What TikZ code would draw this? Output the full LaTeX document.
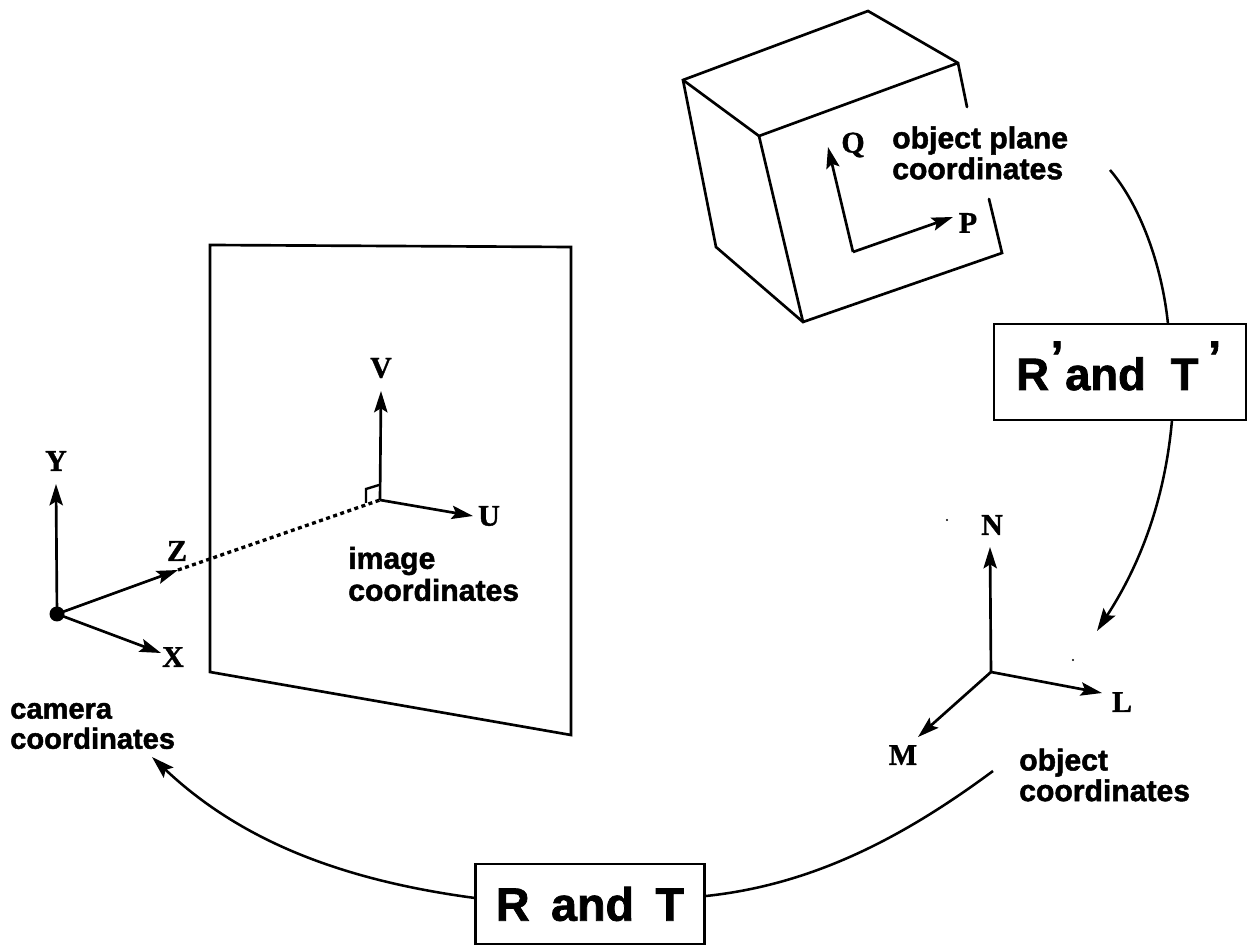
\documentclass[tikz,border=0pt]{standalone}
\usepackage{fontspec}
\setmainfont[BoldFeatures={FakeBold=1.2}]{Liberation Serif}
\setsansfont[BoldFeatures={FakeBold=1.6}]{Liberation Sans}
\usetikzlibrary{arrows.meta}
\tikzset{
  line/.style={line width=2pt,line cap=round,line join=miter},
  axis/.style={line width=2pt,-{Stealth[length=16pt,width=10pt,inset=3pt]}},
  curve/.style={line width=1.9pt},
  curvearrow/.style={line width=1.9pt,-{Stealth[length=17pt,width=10.5pt,inset=3pt]}},
  axlabel/.style={font=\fontsize{22.5}{24}\selectfont\bfseries,inner sep=0pt},
  cap label/.style={font=\fontsize{22.6}{23.2}\selectfont\sffamily\bfseries,align=left,inner sep=0pt,anchor=west},
  boxlabel/.style={draw,line width=2pt,font=\fontsize{35}{38}\selectfont\sffamily\bfseries,inner sep=0pt,anchor=center},
}
\begin{document}
\begin{tikzpicture}[x=0.75pt,y=-0.75pt]
\useasboundingbox (0,0) rectangle (1247,948);
% cube
\coordinate (a) at (683,80);
\coordinate (b) at (868,11);
\coordinate (c) at (958,63);
\coordinate (d) at (759,136);
\coordinate (e) at (716,247);
\coordinate (f) at (803,322);
\coordinate (g) at (1002,253);
\coordinate (c1) at (967,107);
\coordinate (g1) at (989,199);
\draw[line] (c1) -- (c) -- (b) -- (a) -- (e) -- (f) -- (g) -- (g1);
\draw[line] (a) -- (d) -- (c);
\draw[line] (d) -- (f);
% object plane axes
\coordinate (po) at (853,252);
\coordinate (qt) at (828,147);
\coordinate (pt) at (953,217);
\draw[axis] (po) -- (qt);
\draw[axis] (po) -- (pt);
\node[axlabel] (q) at (853,145) {Q};
\node[axlabel] (p) at (968,223) {P};
\node[cap label] (oplane) at (892,153) {object plane\\coordinates};
% image plane
\coordinate (i1) at (210,245);
\coordinate (i2) at (571,247);
\coordinate (i3) at (571,735);
\coordinate (i4) at (210,672);
\draw[line] (i1) -- (i2) -- (i3) -- (i4) -- cycle;
% image axes
\coordinate (io) at (380,500);
\coordinate (vt) at (381,391);
\coordinate (ut) at (473,516);
\draw[axis] (io) -- (vt);
\draw[axis] (io) -- (ut);
\draw[line width=1.8pt] (379,485) -- (366,489) -- (366,503);
\node[axlabel] (v) at (381,368) {V};
\node[axlabel] (u) at (489,516) {U};
\node[cap label,font=\fontsize{22.6}{24}\selectfont\sffamily\bfseries] (imcap) at (348,574) {image\\coordinates};
% camera axes
\coordinate (co) at (57,614);
\coordinate (yt) at (56,484);
\coordinate (zt) at (178,570);
\coordinate (xt) at (161,653);
\draw[axis] (co) -- (yt);
\draw[axis] (co) -- (zt);
\draw[axis] (co) -- (xt);
\fill (co) circle (7.5);
\draw[line width=2.5pt,dash pattern=on 3pt off 2.6pt] (zt) -- (io);
\node[axlabel] (y) at (56,461) {Y};
\node[axlabel] (z) at (177,551) {Z};
\node[axlabel] (x) at (173,657) {X};
\node[cap label,font=\fontsize{21.8}{22.6}\selectfont\sffamily\bfseries] (camcap) at (10,726) {camera\\coordinates};
% object axes
\coordinate (oo) at (991,672);
\coordinate (nt) at (990,547);
\coordinate (lt) at (1102,693);
\coordinate (mt) at (918,737);
\draw[axis] (oo) -- (nt);
\draw[axis] (oo) -- (lt);
\draw[axis] (oo) -- (mt);
\node[axlabel] (n) at (992,525) {N};
\node[axlabel] (l) at (1122,702) {L};
\node[axlabel] (m) at (903,755) {M};
\node[cap label,font=\fontsize{22.6}{23}\selectfont\sffamily\bfseries] (objcap) at (1019,775) {object\\coordinates};
% boxes
\node[boxlabel,minimum width=189pt,minimum height=72pt] (rp) at (1120,372) {};
\node[font=\fontsize{34}{38}\selectfont\sffamily\bfseries,inner sep=0pt,anchor=base west] (rptext) at (1016,390) {R\hspace{0.04em}\raisebox{13pt}{’}\hspace{0.04em}and\hspace{0.55em}T\hspace{0.22em}\raisebox{13pt}{’}};
\node[boxlabel,minimum width=172pt,minimum height=60pt] (rt) at (590,904) {R\hspace{0.46em}and\hspace{0.46em}T};
% arcs
\coordinate (s1) at (1110,170);
\coordinate (e1) at (1168,324);
\coordinate (s2) at (1172,420);
\coordinate (e2) at (1097,631);
\coordinate (s3) at (993,771);
\coordinate (e3) at (706,896);
\coordinate (s4) at (475,898);
\coordinate (e4) at (152,757);
\draw[curve] (s1) .. controls (1140,205) and (1162,265) .. (e1);
\draw[curvearrow] (s2) .. controls (1165,500) and (1140,565) .. (e2);
\draw[curve] (s3) .. controls (900,840) and (810,885) .. (e3);
\draw[curvearrow] (s4) .. controls (340,880) and (240,840) .. (e4);
% specks
\fill (947,520) circle (1.2);
\fill (1073,660) circle (1.2);
\end{tikzpicture}
\end{document}
